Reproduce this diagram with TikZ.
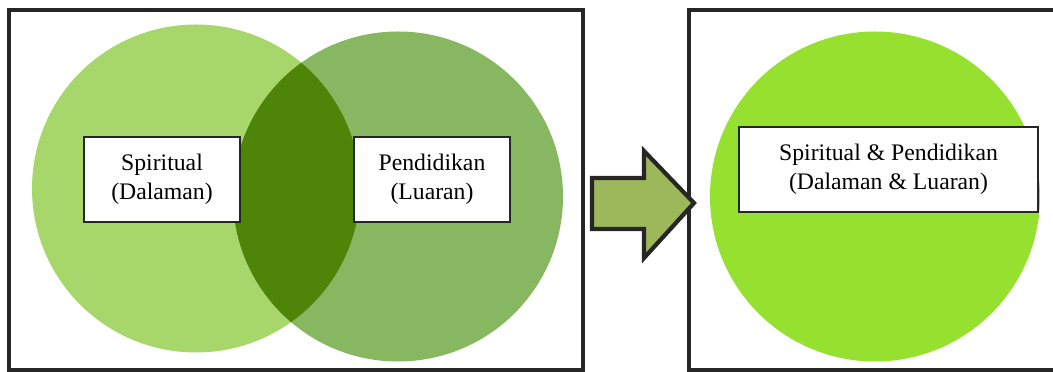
\documentclass[tikz,border=0pt]{standalone}
\usepackage{fontspec}
\setmainfont{Liberation Serif}
\definecolor{leftgreen}{HTML}{A7D66A}
\definecolor{rightgreen}{HTML}{87B760}
\definecolor{lensgreen}{HTML}{4E8508}
\definecolor{wholegreen}{HTML}{96E02F}
\definecolor{arrowgreen}{HTML}{9DB85B}
\begin{document}
\begin{tikzpicture}
  [
    x=0.2mm, y=-0.2mm,
    frame/.style={
      draw=black!85,
      line width=2pt
    },
    label/.style={
      draw=black!85,
      fill=white,
      line width=0.8pt,
      align=center,
      font=\fontsize{13.5}{16.5}\selectfont,
      inner sep=0pt
    }
  ]
  \clip (0,0) rectangle (1053,372);

  % frames
  \draw [frame] (9,10) rectangle (583,370);
  \draw [frame] (689,10) rectangle (1070,370);

  % two circles
  \fill [leftgreen] (196,188.5) circle (164);
  \fill [rightgreen] (398,196.5) circle (165);
  \begin{scope}
    \clip (196,188.5) circle (164);
    \fill [lensgreen] (398,196.5) circle (165);
  \end{scope}

  % one circle
  \fill [wholegreen] (875,196.5) circle (165);

  % arrow
  \draw [frame, line width=2.4pt, fill=arrowgreen, line join=miter]
    (592,178) -- (644,178) -- (644,151) -- (694,203)
    -- (644,258) -- (644,229) -- (592,229) -- cycle;

  % labels
  \node [label, minimum width=156*0.2mm, minimum height=85*0.2mm] (spiritual)
    at (162,179.5) {Spiritual\\(Dalaman)};
  \node [label, minimum width=156*0.2mm, minimum height=85*0.2mm] (pendidikan)
    at (432,179.5) {Pendidikan\\(Luaran)};
  \node [label, minimum width=299*0.2mm, minimum height=85*0.2mm] (both)
    at (888.5,169.5) {Spiritual \& Pendidikan\\(Dalaman \& Luaran)};
\end{tikzpicture}
\end{document}
